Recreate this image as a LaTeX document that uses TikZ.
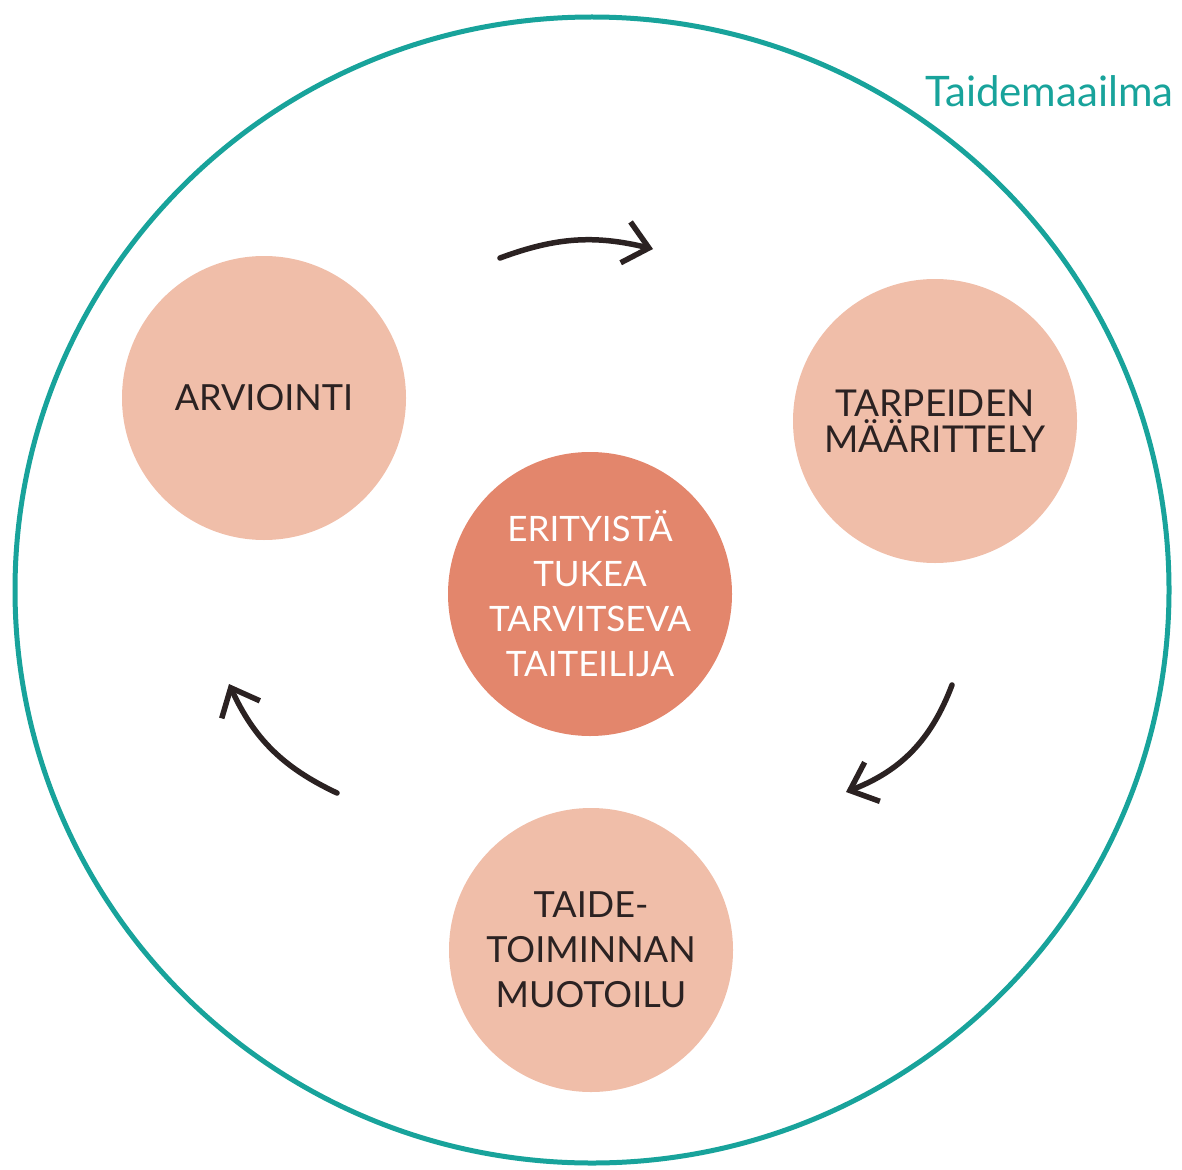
\documentclass[tikz,border=0pt]{standalone}
\usepackage{fontspec}
\setmainfont{Lato}
\usetikzlibrary{arrows.meta}
\definecolor{worldteal}{HTML}{18A39B}
\definecolor{phasefill}{HTML}{F0BEA9}
\definecolor{corefill}{HTML}{E3866C}
\definecolor{textdark}{HTML}{2B2222}
\newcommand{\phasefont}[1]{\fontsize{#1}{45}\selectfont}

\begin{document}
\begin{tikzpicture}[
  x=1pt, y=1pt,
  phase/.style={circle, fill=phasefill, minimum size=284pt, inner sep=0pt,
    align=center, text=textdark, font=\phasefont{36}},
  core/.style={phase, fill=corefill, text=white, font=\phasefont{35}},
  cyc/.style={line width=5.5pt, line cap=round, textdark,
    -{Straight Barb[length=24pt, width=42pt]}},
]
%\draw[gray, help lines] (0,0) grid[step=100] (1182,-1169);
\useasboundingbox (0,0) rectangle (1182,-1169);
% art world
\draw[worldteal, line width=5pt] (592,-590) ellipse [x radius=577, y radius=573];
\node[text=worldteal, anchor=base east, font=\fontsize{42}{42}\selectfont]
  (world) at (1177,-107) {Taidemaailma};
% phases of the cycle
\node[phase] (arvio) at (264,-398) {ARVIOINTI};
\node[phase, font=\fontsize{37}{36}\selectfont] (tarpeet) at (935,-421) {TARPEIDEN\\MÄÄRITTELY};
\node[phase] (muotoilu) at (591,-950) {TAIDE-\\TOIMINNAN\\MUOTOILU};
\node[core] (artist) at (590,-594) {ERITYISTÄ\\TUKEA\\TARVITSEVA\\TAITEILIJA};
% cycle arrows
\coordinate (c1s) at (500,-258);
\coordinate (c1e) at (653,-249);
\coordinate (c2s) at (952,-685);
\coordinate (c2e) at (846,-792);
\coordinate (c3s) at (337,-793);
\coordinate (c3e) at (229,-684);
\draw[cyc] (c1s) to[bend left=17] (c1e);
\draw[cyc] (c2s) to[bend left=24] (c2e);
\draw[cyc] (c3s) to[bend left=20] (c3e);
\end{tikzpicture}
\end{document}
